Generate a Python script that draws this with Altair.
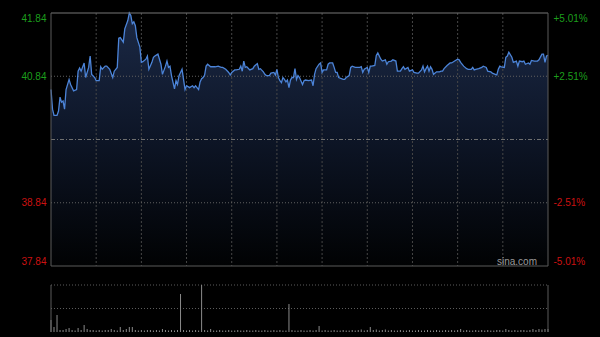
import altair as alt
import pandas as pd

# ---- data ----
minutes = [0, 1, 2, 4, 5, 6, 7, 8, 9, 10, 12, 13, 15, 17, 18, 19, 20, 22, 23, 25, 26, 27, 29, 30, 32, 33, 34, 36, 37, 39,
           41, 42, 44, 45, 46, 48, 49, 51, 52, 53, 54, 55, 56, 57, 59, 60, 61, 63, 64, 65, 67, 68, 69, 71, 73, 74, 76, 77, 78, 79,
           80, 82, 83, 84, 85, 86, 87, 88, 89, 90, 92, 94, 95, 96, 98, 99, 100, 101, 102, 103, 104, 106, 109, 111, 113, 114, 116, 118, 119, 120,
           122, 123, 125, 126, 127, 128, 129, 130, 132, 134, 135, 137, 138, 139, 141, 142, 143, 145, 146, 148, 149, 150, 151, 152, 153, 154, 155, 156, 157, 158,
           159, 160, 161, 162, 163, 164, 165, 167, 168, 169, 171, 173, 174, 175, 176, 178, 179, 180, 181, 183, 184, 185, 187, 188, 189, 190, 191, 194, 195, 196,
           198, 199, 200, 202, 203, 205, 206, 207, 208, 210, 211, 212, 213, 215, 216, 217, 219, 220, 222, 223, 224, 226, 227, 229, 230, 232, 233, 234, 235, 237,
           238, 240, 241, 243, 244, 246, 247, 248, 249, 250, 251, 252, 253, 254, 256, 258, 259, 260, 261, 263, 265, 266, 268, 270, 271, 272, 274, 276, 277, 279,
           280, 281, 282, 284, 286, 287, 289, 290, 292, 293, 295, 296, 297, 298, 299, 301, 302, 303, 304, 306, 307, 309, 310, 311, 313, 314, 315, 317, 318, 319,
           321, 323, 324, 326, 327, 328, 329, 330]
prices = [40.63, 40.32, 40.22, 40.22, 40.29, 40.51, 40.43, 40.45, 40.32, 40.63, 40.79, 40.71, 40.61, 40.63, 40.92, 40.97, 40.92, 41.05, 40.82, 40.98,
          41.16, 40.87, 40.82, 40.77, 40.77, 40.99, 40.95, 41.00, 41.00, 40.95, 40.82, 40.92, 40.98, 41.44, 41.45, 41.38, 41.59, 41.72, 41.84, 41.80,
          41.67, 41.70, 41.64, 41.45, 41.30, 41.06, 41.07, 41.11, 41.16, 40.95, 41.06, 41.14, 41.16, 41.19, 41.03, 40.87, 41.00, 41.08, 40.98, 41.00,
          40.85, 40.64, 40.77, 40.71, 40.85, 40.90, 40.95, 40.79, 40.63, 40.69, 40.66, 40.69, 40.66, 40.69, 40.63, 40.75, 40.80, 40.82, 40.86, 41.00,
          41.03, 40.99, 40.99, 41.00, 40.98, 40.98, 40.95, 40.90, 40.86, 40.90, 40.94, 40.94, 40.95, 41.00, 40.92, 41.08, 40.98, 40.99, 40.94, 40.96,
          41.00, 41.04, 40.95, 40.96, 40.91, 40.87, 40.85, 40.85, 40.89, 40.90, 40.86, 40.95, 40.82, 40.77, 40.74, 40.82, 40.79, 40.75, 40.78, 40.66,
          40.78, 40.82, 40.82, 40.96, 40.79, 40.85, 40.82, 40.71, 40.77, 40.78, 40.77, 40.78, 40.69, 40.87, 40.96, 41.03, 41.05, 40.90, 40.94, 40.94,
          41.03, 41.05, 41.05, 40.98, 40.90, 40.90, 40.82, 40.79, 40.79, 40.82, 40.85, 40.98, 41.00, 40.98, 40.98, 40.98, 40.99, 40.90, 40.95, 40.98,
          40.90, 41.00, 41.00, 41.01, 41.17, 41.21, 41.11, 41.08, 41.10, 41.03, 41.07, 41.08, 41.10, 41.08, 40.92, 40.92, 40.96, 40.99, 40.95, 40.98,
          40.92, 40.94, 40.90, 40.89, 40.89, 40.94, 41.00, 40.91, 40.96, 41.00, 40.92, 40.99, 40.95, 40.87, 40.91, 40.91, 40.92, 40.92, 40.96, 41.01,
          41.05, 41.05, 41.08, 41.11, 41.10, 41.06, 41.00, 40.96, 40.95, 40.95, 40.98, 40.94, 40.95, 40.96, 40.98, 41.00, 40.98, 40.92, 40.91, 40.89,
          40.87, 40.86, 40.95, 41.00, 40.99, 40.98, 41.14, 41.16, 41.22, 41.14, 41.06, 41.08, 41.00, 41.08, 41.07, 41.08, 41.03, 41.05, 41.03, 41.09,
          41.08, 41.08, 41.10, 41.19, 41.19, 41.06, 41.16, 41.17]

vol_minutes = list(range(0, 331, 2))
vol_values = [12, 5, 17, 2, 2, 3, 4, 2, 1.5, 4, 2, 7, 3, 2, 2, 1.5, 2, 1.5, 2, 2,
              3, 2, 1.5, 5, 2, 3, 5, 5, 2, 1.5, 2, 1.5, 2, 2, 1.5, 2, 1.5, 3, 2, 1.5,
              2, 1.5, 2, 38, 2, 1.5, 2, 1.5, 2, 1.5, 47, 2, 1.5, 3, 1.5, 1.5, 2, 1.5, 1.5, 2,
              1.5, 1.5, 2, 1.5, 1.5, 2, 1.5, 1.5, 2, 1.5, 1.5, 2, 1.5, 1.5, 2, 1.5, 2, 1.5, 1.5, 28,
              2, 1.5, 1.5, 2, 1.5, 1.5, 2, 1.5, 2, 6, 1.5, 2, 1.5, 1.5, 2, 1.5, 1.5, 2, 1.5, 1.5,
              2, 1.5, 2, 2.5, 1.5, 2, 5, 2, 2.5, 1.5, 2, 2.5, 1.5, 2, 1.5, 1.5, 2, 1.5, 1.5, 2,
              1.5, 1.5, 2, 1.5, 1.5, 2, 1.5, 1.5, 2, 1.5, 1.5, 2, 1.5, 2, 1.5, 2, 3, 1.5, 2, 1.5,
              1.5, 2, 1.5, 2, 1.5, 2, 1.5, 1.5, 2, 2, 1.5, 3, 2, 1.5, 2, 1.5, 2, 2, 1.5, 2,
              3, 2, 3, 2.5, 3, 3]
vol_max = 47

prev_close = 39.84
price_ticks = [41.84, 40.84, 38.84, 37.84]
pct_labels = ["+5.01%", "+2.51%", "-2.51%", "-5.01%"]
grid_minutes = [30, 60, 90, 120, 150, 180, 210, 240, 270, 300]
grid_prices = [40.84, 38.84]
watermark = "sina.com"

# ---- styling / layout ----
W, H = 497, 319
MAIN_H = 253
VOL_TOP = 272
FONT = "Liberation Sans"
GREEN = "#1c9e1c"
RED = "#cc1111"
BORDER = "#5a5a5a"

df = pd.DataFrame({"m": minutes, "p": prices})
dv = pd.DataFrame({"m": vol_minutes, "v": vol_values})
dgx = pd.DataFrame({"m": grid_minutes})
dgy = pd.DataFrame({"p": grid_prices})
dpc = pd.DataFrame({"p": [prev_close]})
dvg = pd.DataFrame({"v": [vol_max, vol_max / 2]})
dummy = pd.DataFrame({"a": [0]})

xs = alt.Scale(domain=[0, 330], nice=False, zero=False)
ys = alt.Scale(domain=[37.84, 41.84], range=[MAIN_H, 0], nice=False, zero=False)
vs = alt.Scale(domain=[0, vol_max], range=[H, VOL_TOP], nice=False)

X = alt.X("m:Q", scale=xs, axis=None)

pct_expr = " : ".join(
    f"abs(datum.value - {v}) < 0.001 ? '{l}'" for v, l in zip(price_ticks, pct_labels)
) + " : ''"
label_color = {"condition": {"test": f"datum.value > {prev_close}", "value": GREEN}, "value": RED}

left_axis = alt.Axis(values=price_ticks, format=".2f", labelColor=label_color, labelFont=FONT,
                     labelFontSize=10, labelPadding=5, ticks=False, domain=False, grid=False,
                     labelFlush=True, title=None)
right_axis = alt.Axis(values=price_ticks, orient="right", labelExpr=pct_expr, labelColor=label_color,
                      labelFont=FONT, labelFontSize=10, labelPadding=5, ticks=False, domain=False,
                      grid=False, labelFlush=True, title=None)

area = alt.Chart(df).mark_area(
    color=alt.Gradient(gradient="linear",
                       stops=[alt.GradientStop(color="#1b2946", offset=0),
                              alt.GradientStop(color="#0d1526", offset=0.5),
                              alt.GradientStop(color="#010203", offset=1)],
                       x1=1, x2=1, y1=0, y2=1),
    interpolate="linear").encode(
    x=X, y=alt.Y("p:Q", scale=ys, axis=left_axis), y2=alt.datum(37.84))

vgrid = alt.Chart(dgx).mark_rule(color="#474747", strokeDash=[2, 2], strokeWidth=1).encode(
    x=X, y=alt.value(0), y2=alt.value(MAIN_H))
hgrid = alt.Chart(dgy).mark_rule(color="#606060", strokeDash=[1, 2], strokeWidth=1).encode(
    y=alt.Y("p:Q", scale=ys, axis=None), x=alt.value(0), x2=alt.value(W))
pcline = alt.Chart(dpc).mark_rule(color="#707070", strokeDash=[4, 2, 1, 2], strokeWidth=1).encode(
    y=alt.Y("p:Q", scale=ys, axis=None), x=alt.value(0), x2=alt.value(W))

line = alt.Chart(df).mark_line(color="#4c84d8", strokeWidth=1.3).encode(
    x=X, y=alt.Y("p:Q", scale=ys, axis=None))
pct = alt.Chart(df).mark_line(opacity=0).encode(
    x=X, y=alt.Y("p:Q", scale=ys, axis=right_axis))

border_top = alt.Chart(dummy).mark_rule(color="#777777").encode(
    x=alt.value(0), x2=alt.value(W), y=alt.value(0))
border_bot = alt.Chart(dummy).mark_rule(color=BORDER).encode(
    x=alt.value(0), x2=alt.value(W), y=alt.value(MAIN_H))
border_l = alt.Chart(dummy).mark_rule(color=BORDER).encode(
    x=alt.value(0), y=alt.value(0), y2=alt.value(MAIN_H))
border_r = alt.Chart(dummy).mark_rule(color=BORDER).encode(
    x=alt.value(W), y=alt.value(0), y2=alt.value(MAIN_H))
wm = alt.Chart(dummy).mark_text(text=watermark, align="right", baseline="middle", font=FONT,
                                fontSize=10, color="#9a9a9a").encode(
    x=alt.value(486), y=alt.value(249))

main = alt.layer(area, vgrid, hgrid, pcline, line, pct, border_top, border_bot, border_l,
                 border_r, wm).resolve_axis(y="independent")

vgrid2 = alt.Chart(dvg).mark_rule(color="#5c5c5c", strokeDash=[1, 2], strokeWidth=1).encode(
    y=alt.Y("v:Q", scale=vs, axis=None), x=alt.value(0), x2=alt.value(W))
vbars = alt.Chart(dv).mark_rule(color="#8a8a8a", strokeWidth=1).encode(
    x=X, y=alt.Y("v:Q", scale=vs, axis=None), y2=alt.datum(0))
vb_l = alt.Chart(dummy).mark_rule(color=BORDER).encode(
    x=alt.value(0), y=alt.value(VOL_TOP), y2=alt.value(H))
vb_r = alt.Chart(dummy).mark_rule(color=BORDER).encode(
    x=alt.value(W), y=alt.value(VOL_TOP), y2=alt.value(H))
vol = alt.layer(vgrid2, vbars, vb_l, vb_r)

chart = alt.layer(main, vol).resolve_scale(y="independent").properties(
    width=W, height=H,
    autosize=alt.AutoSizeParams(type="none"),
    padding={"left": 51, "top": 13, "right": 52, "bottom": 5},
    background="#000000",
).configure_view(stroke=None)

chart.save("out.html", embed_options={"renderer": "svg", "actions": False})
